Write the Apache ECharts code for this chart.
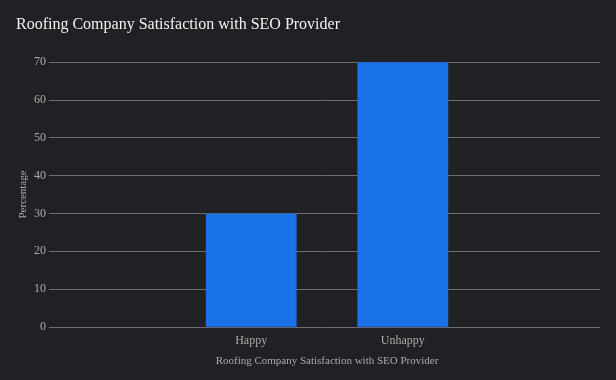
<!DOCTYPE html>
<html>
<head>
<meta charset="utf-8">
<script src="https://cdn.jsdelivr.net/npm/echarts@6/dist/echarts.min.js"></script>
<style>
html,body{margin:0;padding:0;background:#202124;}
#chart{width:616px;height:380px;}
</style>
</head>
<body>
<div id="chart"></div>
<script>
const titleText = 'Roofing Company Satisfaction with SEO Provider';
const categories = ['Happy', 'Unhappy'];
const values = [30, 70];
const yMin = 0, yMax = 70, yStep = 10;
const xAxisName = 'Roofing Company Satisfaction with SEO Provider';
const yAxisName = 'Percentage';

const font = "'Liberation Serif', 'Times New Roman', serif";
const chart = echarts.init(document.getElementById('chart'), null, {renderer: 'canvas'});
chart.setOption({
  backgroundColor: '#202124',
  animation: false,
  textStyle: {fontFamily: font},
  title: {
    text: titleText, left: 16, top: 17, padding: 0,
    textStyle: {color: '#f1f1f1', fontSize: 16, fontWeight: 'normal', fontFamily: font}
  },
  grid: [
    {left: 49, right: 16, top: 62, bottom: 53},
    {left: 175.4, width: 303.2, top: 62, bottom: 53}
  ],
  xAxis: [
    {gridIndex: 0, type: 'category', data: [''], show: false},
    {
      gridIndex: 1, type: 'category', data: categories,
      axisLine: {show: false}, axisTick: {show: false},
      axisLabel: {color: '#aaaaaa', fontSize: 12, margin: 8, fontFamily: font},
      name: xAxisName, nameLocation: 'middle', nameGap: 29,
      nameTextStyle: {color: '#aaaaaa', fontSize: 11, fontFamily: font}
    }
  ],
  yAxis: [
    {
      gridIndex: 0, type: 'value', min: yMin, max: yMax, interval: yStep,
      axisLine: {show: false}, axisTick: {show: false},
      axisLabel: {color: '#aaaaaa', fontSize: 12, margin: 3, fontFamily: font},
      splitLine: {lineStyle: {color: '#6e6e6e', width: 1}},
      name: yAxisName, nameLocation: 'middle', nameGap: 20, nameMoveOverlap: false,
      nameTextStyle: {color: '#aaaaaa', fontSize: 11, fontFamily: font}
    },
    {gridIndex: 1, type: 'value', min: yMin, max: yMax, interval: yStep, show: false, splitLine: {show: false}}
  ],
  series: [{
    type: 'bar', xAxisIndex: 1, yAxisIndex: 1,
    data: values,
    barCategoryGap: '40%',
    itemStyle: {color: '#1a73e8', borderColor: '#1a5fbf', borderWidth: 0.5}
  }]
});
</script>
</body>
</html>
